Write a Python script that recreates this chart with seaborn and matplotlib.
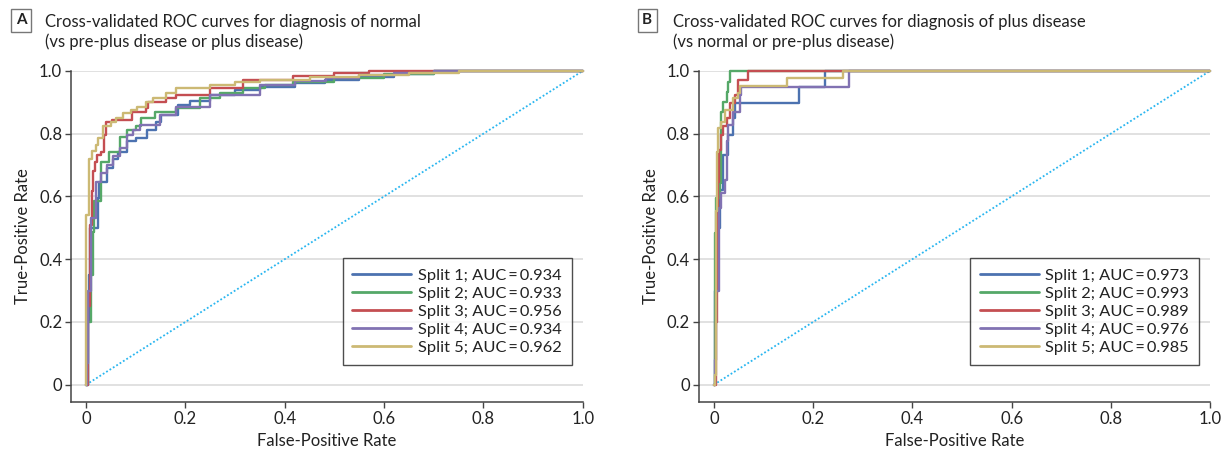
import numpy as np
import pandas as pd
import matplotlib
matplotlib.use("Agg")
import matplotlib.pyplot as plt
import seaborn as sns

# ROC step corners (fpr where a plateau starts, tpr of that plateau)
a_fpr_1 = [0, 0.003, 0.005, 0.008, 0.025, 0.027, 0.042, 0.055, 0.065, 0.082, 0.1, 0.122, 0.14, 0.15, 0.186, 0.21, 0.25, 0.3, 0.35, 0.42, 0.48, 0.55, 0.62, 0.7, 1.0]
a_tpr_1 = [0, 0.2, 0.35, 0.5, 0.595, 0.647, 0.69, 0.72, 0.743, 0.775, 0.786, 0.812, 0.838, 0.86, 0.892, 0.905, 0.924, 0.94, 0.95, 0.962, 0.971, 0.98, 0.99, 1.0, 1.0]
a_fpr_2 = [0, 0.004, 0.01, 0.014, 0.016, 0.031, 0.047, 0.069, 0.082, 0.1, 0.11, 0.139, 0.182, 0.229, 0.27, 0.316, 0.36, 0.417, 0.5, 0.6, 0.7, 1.0]
a_tpr_2 = [0, 0.2, 0.35, 0.488, 0.584, 0.711, 0.743, 0.79, 0.812, 0.823, 0.849, 0.868, 0.881, 0.913, 0.93, 0.945, 0.955, 0.966, 0.978, 0.99, 1.0, 1.0]
a_fpr_3 = [0, 0.003, 0.008, 0.011, 0.013, 0.017, 0.022, 0.03, 0.036, 0.04, 0.053, 0.092, 0.12, 0.125, 0.16, 0.182, 0.25, 0.316, 0.417, 0.5, 0.57, 1.0]
a_tpr_3 = [0, 0.25, 0.51, 0.616, 0.68, 0.71, 0.733, 0.743, 0.796, 0.838, 0.845, 0.87, 0.881, 0.902, 0.915, 0.924, 0.945, 0.971, 0.985, 0.993, 1.0, 1.0]
a_fpr_4 = [0, 0.002, 0.004, 0.01, 0.02, 0.03, 0.042, 0.055, 0.068, 0.082, 0.095, 0.109, 0.149, 0.182, 0.25, 0.35, 0.42, 0.484, 0.55, 0.62, 0.7, 1.0]
a_tpr_4 = [0, 0.07, 0.3, 0.53, 0.647, 0.675, 0.7, 0.73, 0.754, 0.796, 0.812, 0.828, 0.86, 0.886, 0.924, 0.955, 0.967, 0.978, 0.986, 0.993, 1.0, 1.0]
a_fpr_5 = [0, 0, 0.005, 0.012, 0.02, 0.025, 0.035, 0.05, 0.06, 0.075, 0.09, 0.102, 0.12, 0.135, 0.16, 0.182, 0.25, 0.3, 0.35, 0.45, 0.55, 0.65, 0.75, 1.0]
a_tpr_5 = [0, 0.54, 0.72, 0.745, 0.765, 0.785, 0.823, 0.838, 0.85, 0.865, 0.876, 0.886, 0.9, 0.915, 0.93, 0.945, 0.955, 0.963, 0.971, 0.98, 0.987, 0.993, 1.0, 1.0]

b_fpr_1 = [0, 0.003, 0.006, 0.012, 0.019, 0.029, 0.039, 0.042, 0.172, 0.223, 1.0]
b_tpr_1 = [0, 0.3, 0.5, 0.62, 0.733, 0.796, 0.849, 0.897, 0.948, 1.0, 1.0]
b_fpr_2 = [0, 0.002, 0.005, 0.012, 0.015, 0.019, 0.026, 0.029, 0.032, 1.0]
b_tpr_2 = [0, 0.484, 0.595, 0.643, 0.87, 0.902, 0.934, 0.966, 1.0, 1.0]
b_fpr_3 = [0, 0.004, 0.007, 0.009, 0.01, 0.015, 0.019, 0.026, 0.032, 0.042, 0.049, 0.069, 1.0]
b_tpr_3 = [0, 0.2, 0.45, 0.647, 0.748, 0.796, 0.823, 0.849, 0.897, 0.924, 0.971, 1.0, 1.0]
b_fpr_4 = [0, 0.003, 0.005, 0.01, 0.015, 0.022, 0.026, 0.029, 0.039, 0.052, 0.055, 0.272, 1.0]
b_tpr_4 = [0, 0.08, 0.3, 0.564, 0.611, 0.653, 0.775, 0.828, 0.87, 0.924, 0.95, 1.0, 1.0]
b_fpr_5 = [0, 0.002, 0.004, 0.007, 0.009, 0.015, 0.022, 0.039, 0.049, 0.052, 0.148, 0.26, 1.0]
b_tpr_5 = [0, 0.03, 0.552, 0.743, 0.817, 0.838, 0.876, 0.913, 0.93, 0.953, 0.977, 1.0, 1.0]

a_auc = [0.934, 0.933, 0.956, 0.934, 0.962]
b_auc = [0.973, 0.993, 0.989, 0.976, 0.985]

ticks = [0, 0.2, 0.4, 0.6, 0.8, 1.0]
tick_labels = ["0", "0.2", "0.4", "0.6", "0.8", "1.0"]
colors = ["#4C72B0", "#55A868", "#C44E52", "#8172B2", "#CCB974"]

sns.set_style("ticks")
plt.rcParams["font.family"] = ["Lato", "DejaVu Sans"]
plt.rcParams["text.color"] = "#222222"
plt.rcParams["axes.labelcolor"] = "#222222"
plt.rcParams["xtick.color"] = "#222222"
plt.rcParams["ytick.color"] = "#222222"


def build(fprs, tprs, aucs):
    frames = []
    for i, (f, t, a) in enumerate(zip(fprs, tprs, aucs), 1):
        frames.append(pd.DataFrame({"fpr": f, "tpr": t,
                                    "split": f"Split {i}; AUC\u2009=\u2009{a:.3f}"}))
    return pd.concat(frames, ignore_index=True)


df_a = build([a_fpr_1, a_fpr_2, a_fpr_3, a_fpr_4, a_fpr_5],
             [a_tpr_1, a_tpr_2, a_tpr_3, a_tpr_4, a_tpr_5], a_auc)
df_b = build([b_fpr_1, b_fpr_2, b_fpr_3, b_fpr_4, b_fpr_5],
             [b_tpr_1, b_tpr_2, b_tpr_3, b_tpr_4, b_tpr_5], b_auc)

fig = plt.figure(figsize=(12.27, 4.53), dpi=100)
ax_a = fig.add_axes([0.058, 0.1126, 0.417, 0.731])
ax_b = fig.add_axes([0.5697, 0.1126, 0.4165, 0.731])

for ax, df in [(ax_a, df_a), (ax_b, df_b)]:
    for y in ticks:
        ax.axhline(y, color="#dcdcdc", lw=1.2, zorder=0)
    ax.plot([0, 1], [0, 1], ls=(0, (1, 1.2)), color="#29B6F0", lw=1.3, zorder=1)
    sns.lineplot(data=df, x="fpr", y="tpr", hue="split", palette=colors,
                 sort=False, estimator=None, drawstyle="steps-post",
                 lw=1.7, ax=ax, clip_on=False, zorder=3)
    ax.set_xlim(-0.03, 1.0)
    ax.set_ylim(-0.055, 1.0)
    ax.set_xticks(ticks)
    ax.set_xticklabels(tick_labels)
    ax.set_yticks(ticks)
    ax.set_yticklabels(tick_labels)
    ax.tick_params(labelsize=12, length=4, width=1, pad=2.5, color="#444444")
    ax.set_xlabel("False-Positive Rate", fontsize=12, labelpad=4)
    ax.set_ylabel("True-Positive Rate", fontsize=12, labelpad=6)
    for s in ["top", "right"]:
        ax.spines[s].set_visible(False)
    for s in ["left", "bottom"]:
        ax.spines[s].set_color("#444444")
        ax.spines[s].set_linewidth(1.1)
    leg = ax.legend(title=None, loc="lower right", bbox_to_anchor=(0.978, 0.112),
                    fontsize=11.8, frameon=True, fancybox=False, handlelength=3.6,
                    handletextpad=0.4, labelspacing=0.22, borderpad=0.6,
                    borderaxespad=0)
    leg.get_frame().set_edgecolor("#222222")
    leg.get_frame().set_linewidth(1.0)
    for line in leg.get_lines():
        line.set_linewidth(2.0)

for x_box, x_txt, letter, line1, line2 in [
        (0.0171, 0.0367, "A", "Cross-validated ROC curves for diagnosis of normal",
         "(vs pre-plus disease or plus disease)"),
        (0.5275, 0.5485, "B", "Cross-validated ROC curves for diagnosis of plus disease",
         "(vs normal or pre-plus disease)")]:
    fig.text(x_box, 0.955, letter, fontsize=11, fontweight="bold", ha="center", va="center",
             bbox=dict(boxstyle="square,pad=0.3", fc="white", ec="#777777", lw=1.0))
    fig.text(x_txt, 0.951, line1, fontsize=12, ha="left", va="center")
    fig.text(x_txt, 0.908, line2, fontsize=12, ha="left", va="center")

fig.savefig("out.png", dpi=100)
